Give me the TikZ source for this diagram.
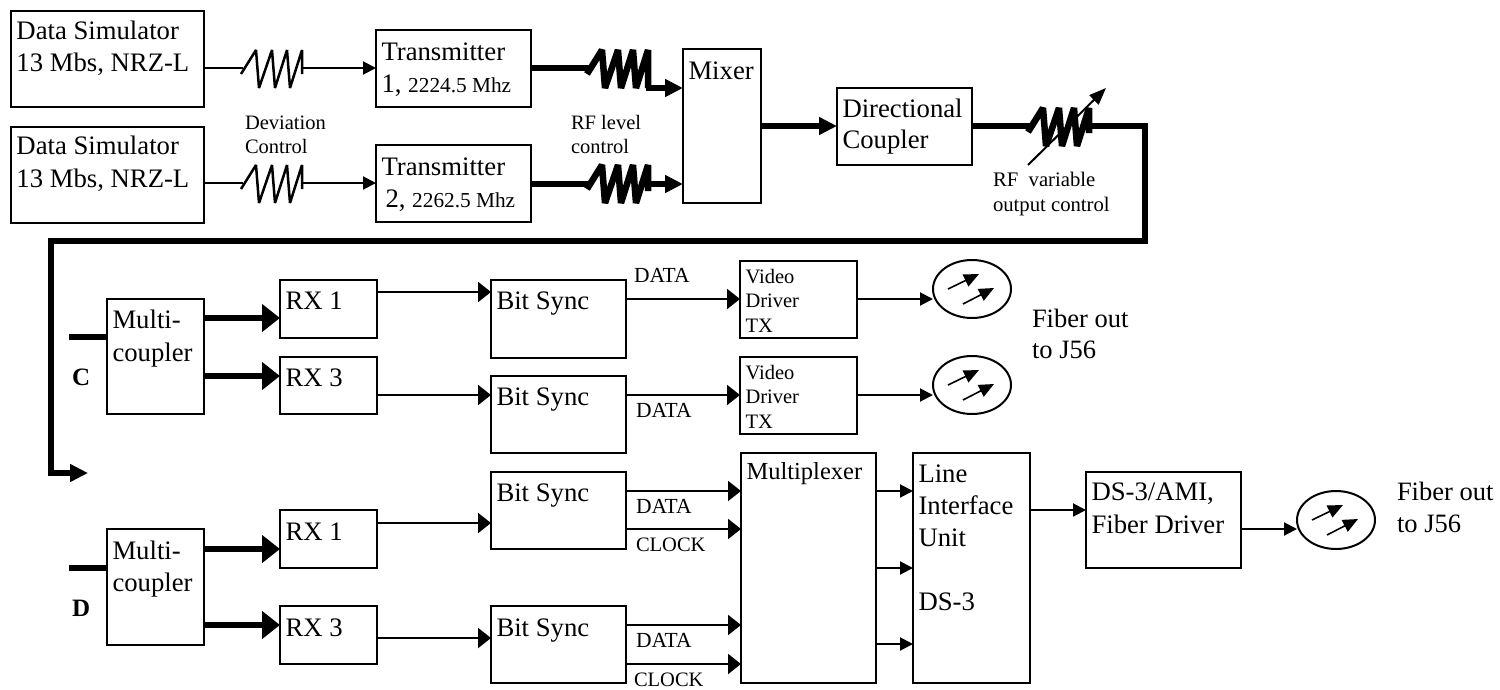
\documentclass[tikz,border=0pt]{standalone}
\usepackage{fontspec}
\setmainfont{Liberation Serif}
\usetikzlibrary{arrows.meta,shapes.geometric}
\newcommand\blk[9]{%
  \node[blockbox] (#1) at ({(#2+#4)/2},{(#3+#5)/2}) {\parbox[c][\dimexpr#5pt-#3pt\relax][t]{\dimexpr#4pt-#2pt\relax}{%
    \raggedright\leftskip=5.5pt\fontsize{#6}{#8}\selectfont\rule{0pt}{#7pt}#9}};}
\newcommand\lab[6]{%
  \node[freelabel] (#1) at (#2,#3) {\fontsize{#4}{#5}\selectfont\begin{tabular}[t]{@{}l@{}}#6\end{tabular}};}
\newcommand\hlink[4]{\draw[#1] (#2.east |- 0,#4) -- (#3.west |- 0,#4);}
\newcommand\led[3]{%
  \node[ledshape] (#1) at (#2,#3) {};
  \draw[ledarrow] ([shift={(-24,0)}]#1.center) -- ([shift={(7,-15)}]#1.center);
  \draw[ledarrow] ([shift={(-9,15)}]#1.center) -- ([shift={(22,-1)}]#1.center);}
\newcommand\zig[4]{%
  \draw[#1] (#2,#3) ++(-2,6) -- ++(15,-24) -- ++(3,38) -- ++(13,-38) -- ++(3,38) -- ++(12,-38) -- ++(3,38) -- ++(12,-38) -- ++(0,#4);}
\tikzset{
  blockbox/.style={draw,line width=2pt,inner sep=0pt,outer sep=0pt},
  freelabel/.style={anchor=base west,inner sep=0pt,outer sep=0pt},
  ledshape/.style={draw,ellipse,line width=2pt,minimum width=78pt,minimum height=58pt,inner sep=0pt,outer sep=0pt},
  ledarrow/.style={line width=1.6pt,-{Triangle[length=15pt,width=13pt]}},
  zigthin/.style={line width=2.5pt,line join=bevel},
  zigthick/.style={line width=6.5pt,line join=bevel},
  wirethick/.style={line width=5.5pt},
  wirethin/.style={line width=2pt},
  arrbig/.style={line width=6pt,-{Triangle[length=18pt,width=27pt]}},
  arrmid/.style={line width=5.5pt,-{Triangle[length=18pt,width=17pt]}},
  arrwide/.style={line width=2pt,-{Triangle[length=13pt,width=20pt]}},
  arrnarrow/.style={line width=2pt,-{Triangle[length=13pt,width=13pt]}},
  bus/.style={line width=5.5pt,line join=miter,-{Triangle[length=18pt,width=17pt]}}
}
\begin{document}
\begin{tikzpicture}[x=1pt,y=-1pt]
\useasboundingbox (0,0) rectangle (1500,689);
% top row blocks
\blk{ds1}{11}{11}{204}{107}{26.7}{28}{32.5}{Data Simulator\\13 Mbs, NRZ-L}
\blk{ds2}{11}{127}{204}{223}{26.7}{27.5}{32.5}{Data Simulator\\13 Mbs, NRZ-L}
\blk{t1}{376}{30}{531}{107}{26.7}{30}{32.5}{Transmitter\\1, {\fontsize{21.3}{26}\selectfont 2224.5 Mhz}}
\blk{t2}{376}{145}{531}{222}{26.7}{30}{32.5}{Transmitter\\\hspace*{4pt}2, {\fontsize{21.3}{26}\selectfont 2262.5 Mhz}}
\blk{mixer}{683}{49}{761}{203}{26.7}{30}{32}{Mixer}
\blk{dc}{837}{88}{972}{165}{26.7}{29}{31.5}{Directional\\Coupler}
% resistors
\zig{zigthin}{243}{68}{24}
\zig{zigthin}{243}{183}{24}
\zig{zigthick}{589}{68}{38}
\zig{zigthick}{589}{183}{26}
\zig{zigthick}{1030}{126}{25}
\coordinate (r1a) at (243,68);
\coordinate (r1b) at (301,68);
\coordinate (r2a) at (243,183);
\coordinate (r2b) at (301,183);
\coordinate (r3a) at (589,68);
\coordinate (r3b) at (646,88);
\coordinate (r4a) at (589,184);
\coordinate (r4b) at (646,184);
\coordinate (r5a) at (1030,126);
\coordinate (r5b) at (1087,126);
\coordinate (vara) at (1028,165);
\coordinate (varb) at (1106,88);
\coordinate (busA) at (1145,126);
\coordinate (busB) at (1145,241);
\coordinate (busC) at (51,241);
\coordinate (busD) at (51,473);
\coordinate (busE) at (88,473);
\draw[wirethin] (ds1.east |- r1a) -- (r1a);
\draw[arrnarrow] (r1b) -- (t1.west |- r1b);
\draw[wirethin] (ds2.east |- r2a) -- (r2a);
\draw[arrnarrow] (r2b) -- (t2.west |- r2b);
\draw[wirethick] (t1.east |- r3a) -- (r3a);
\draw[arrmid] (r3b) -- (mixer.west |- r3b);
\draw[wirethick] (t2.east |- r4a) -- (r4a);
\draw[arrmid] (r4b) -- (mixer.west |- r4b);
\hlink{arrmid}{mixer}{dc}{126}
\draw[wirethick] (dc.east |- r5a) -- (r5a);
\draw[line width=2pt,-{Triangle[length=17pt,width=13pt]}] (vara) -- (varb);
\draw[bus] (r5b) -- (busA) -- (busB) -- (busC) -- (busD) -- (busE);
\lab{ldev}{245}{129}{20.5}{24}{Deviation\\Control}
\lab{lrf}{571}{129}{20.5}{24}{RF level\\control}
\lab{lvar}{993}{186}{20.7}{25}{RF\ \ variable\\output control}
% row C
\blk{mcC}{107}{299}{204}{414}{26.7}{29}{33}{Multi-\\coupler}
\blk{rxC1}{280}{280}{377}{338}{26.7}{29}{32}{RX 1}
\blk{rxC3}{280}{357}{377}{414}{26.7}{29}{32}{RX 3}
\blk{bsC1}{491}{280}{626}{358}{26.7}{29}{32}{Bit Sync}
\blk{bsC3}{491}{376}{626}{453}{26.7}{29}{32}{Bit Sync}
\blk{vdC1}{740}{261}{857}{338}{20.5}{22}{24.5}{Video\\Driver\\TX}
\blk{vdC3}{740}{357}{857}{434}{20.5}{22}{24.5}{Video\\Driver\\TX}
\led{ledC1}{972}{289}
\led{ledC3}{972}{385}
\coordinate (stubC) at (69,337);
\draw[wirethick] (stubC) -- (mcC.west |- stubC);
\hlink{arrbig}{mcC}{rxC1}{318}
\hlink{arrbig}{mcC}{rxC3}{376}
\hlink{arrwide}{rxC1}{bsC1}{292}
\hlink{arrwide}{rxC3}{bsC3}{395}
\hlink{arrwide}{bsC1}{vdC1}{299}
\hlink{arrwide}{bsC3}{vdC3}{395}
\hlink{arrnarrow}{vdC1}{ledC1}{299}
\hlink{arrnarrow}{vdC3}{ledC3}{395}
\lab{lC}{72}{385}{25}{30}{\bfseries C}
\lab{ld1}{634}{282}{21.5}{24}{DATA}
\lab{ld2}{636}{417}{21.5}{24}{DATA}
\lab{lf1}{1032}{327}{26.5}{31}{Fiber out\\to J56}
% row D
\blk{mcD}{107}{529}{204}{645}{26.7}{30}{32.5}{Multi-\\coupler}
\blk{rxD1}{280}{510}{377}{568}{26.7}{30}{32}{RX 1}
\blk{rxD3}{280}{606}{377}{664}{26.7}{30}{32}{RX 3}
\blk{bsD1}{491}{472}{626}{549}{26.7}{29}{32}{Bit Sync}
\blk{bsD3}{491}{606}{626}{683}{26.7}{30}{32}{Bit Sync}
\blk{mux}{741}{453}{876}{683}{24.5}{26}{32}{Multiplexer}
\blk{liu}{913}{453}{1030}{683}{26.7}{29}{32}{Line\\Interface\\Unit\\[32pt]DS-3}
\blk{dsf}{1086}{472}{1241}{568}{26.7}{28}{33}{DS-3/AMI,\\Fiber Driver}
\led{ledD}{1336}{520}
\coordinate (stubD) at (69,568);
\draw[wirethick] (stubD) -- (mcD.west |- stubD);
\hlink{arrbig}{mcD}{rxD1}{549}
\hlink{arrbig}{mcD}{rxD3}{625}
\hlink{arrwide}{rxD1}{bsD1}{523}
\hlink{arrwide}{rxD3}{bsD3}{638}
\hlink{arrwide}{bsD1}{mux}{491}
\hlink{arrwide}{bsD1}{mux}{529}
\hlink{arrwide}{bsD3}{mux}{625}
\hlink{arrwide}{bsD3}{mux}{664}
\hlink{arrnarrow}{mux}{liu}{491}
\hlink{arrnarrow}{mux}{liu}{568}
\hlink{arrnarrow}{mux}{liu}{644}
\hlink{arrnarrow}{liu}{dsf}{510}
\hlink{arrnarrow}{dsf}{ledD}{529}
\lab{lD}{72}{616}{25}{30}{\bfseries D}
\lab{ld3}{636}{513}{21.5}{24}{DATA}
\lab{lc3}{636}{551}{20.5}{24}{CLOCK}
\lab{ld4}{636}{647}{21.5}{24}{DATA}
\lab{lc4}{634}{686}{20.5}{24}{CLOCK}
\lab{lf2}{1397}{500}{26.5}{32}{Fiber out\\to J56}
\end{tikzpicture}
\end{document}
